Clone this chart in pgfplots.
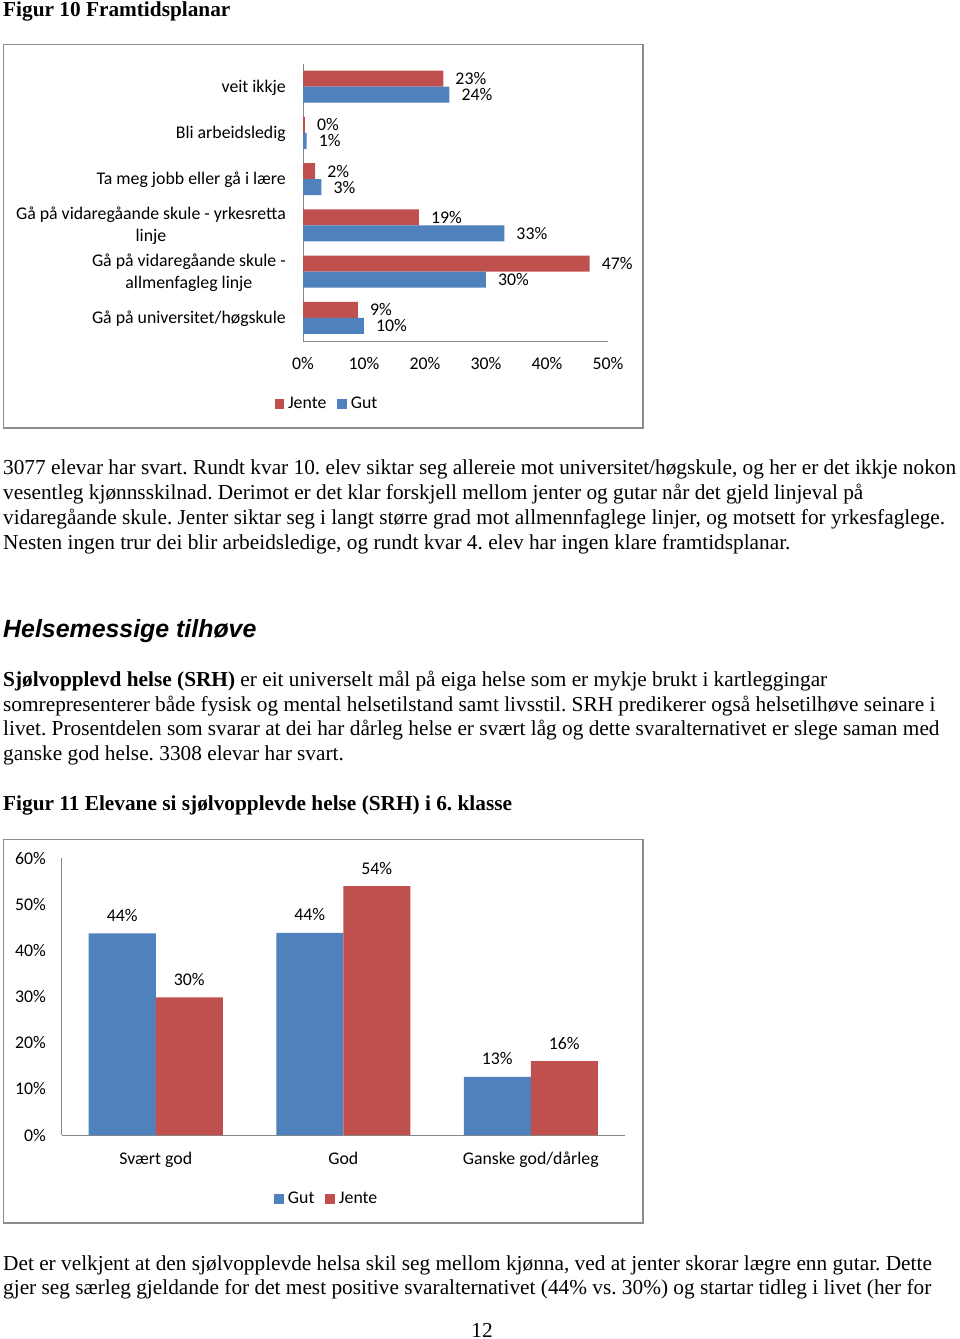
\documentclass[border=0pt]{standalone}
\usepackage{pgfplots}
\pgfplotsset{compat=1.18}
\usepackage{fontspec}
\setmainfont{Liberation Serif}
\newfontfamily\calibri{Carlito}
\newfontfamily\arial{Liberation Sans}
\definecolor{xblue}{HTML}{4F81BD}
\definecolor{xred}{HTML}{C0504D}
\definecolor{xgray}{HTML}{868686}
\definecolor{fgray}{HTML}{8C8C8C}
\newcommand\cf{\calibri\fontsize{17.8}{22}\selectfont}
\newcommand\tf{\fontsize{21.3}{24.7}\selectfont\frenchspacing}

\pgfplotsset{
  excel/.style={
    scale only axis, clip=false,
    axis lines=left, axis line style={xgray, line width=1pt, -},
    major tick length=0pt,
    tick label style={font=\cf, inner sep=0pt},
    /pgf/number format/assume math mode=true,
    nodes near coords={\pgfmathprintnumber[fixed,precision=0]{\pgfplotspointmeta}\%},
    every node near coord/.append style={font=\cf, inner sep=0pt, text=black},
    legend style={draw=none, fill=none, font=\cf, legend columns=-1, inner sep=0pt,
      nodes={inner sep=0pt, inner xsep=1pt},
      /tikz/every even column/.append style={column sep=10pt}},
  },
  sqlegend/.style={
    legend image code/.code={\fill[##1,draw=none] (0pt,-5.7pt) rectangle (9.5pt,4pt);
      \path (12.5pt,0pt);},
  },
}

\begin{document}
\begin{tikzpicture}[x=1pt,y=1pt]
\fill[white] (0,0) rectangle (960,-1339);
\tikzset{tl/.style={anchor=base west, inner sep=0pt, font=\tf}}

% Figur 10
\node[tl] at (3,-16) {\textbf{Figur 10 Framtidsplanar}};
\draw[fgray, line width=1.2pt] (3.5,-44.5) rectangle (643,-428);

\begin{axis}[excel,
  at={(303pt,-341pt)}, anchor=south west,
  width=305pt, height=277.5pt,
  xbar, bar width=16pt, sqlegend,
  xmin=0, xmax=50, ymin=-0.5, ymax=5.5,
  xtick={0,10,...,50}, ytick={0,...,5},
  xticklabel={\pgfmathprintnumber{\tick}\%},
  yticklabels={Gå på universitet/høgskule, {Gå på vidaregåande skule -\\allmenfagleg linje}, {Gå på vidaregåande skule - yrkesretta\\linje}, Ta meg jobb eller gå i lære, Bli arbeidsledig, veit ikkje},
  yticklabel style={align=center, xshift=-17pt, yshift=-0.8pt},
  xticklabel style={yshift=-16pt},
  point meta=x,
  every node near coord/.append style={anchor=west, xshift=12pt},
  legend style={at={(0.077,-0.224)}, anchor=center},
]
\addplot[fill=xred, draw=none, bar shift=8pt] coordinates {(9,0) (47,1) (19,2) (2,3) (0.3,4) (23,5)};
\addlegendentry{Jente}
\addplot[fill=xblue, draw=none, bar shift=-8pt] coordinates {(10,0) (30,1) (33,2) (3,3) (0.6,4) (24,5)};
\addlegendentry{Gut}
\end{axis}

% Paragraph 1
\node[tl] at (3,-474) {3077 elevar har svart. Rundt kvar 10. elev siktar seg allereie mot universitet/høgskule, og her er det ikkje nokon};
\node[tl] at (3,-499) {vesentleg kjønnsskilnad. Derimot er det klar forskjell mellom jenter og gutar når det gjeld linjeval på};
\node[tl] at (3,-524) {vidaregåande skule. Jenter siktar seg i langt større grad mot allmennfaglege linjer, og motsett for yrkesfaglege.};
\node[tl] at (3,-549) {Nesten ingen trur dei blir arbeidsledige, og rundt kvar 4. elev har ingen klare framtidsplanar.};

% Heading
\node[anchor=base west, inner sep=0pt, font=\arial\fontsize{24.9}{28}\selectfont\bfseries\itshape] at (3,-637) {Helsemessige tilhøve};

% Paragraph 2
\node[tl] at (3,-686) {\textbf{Sjølvopplevd helse (SRH)} er eit universelt mål på eiga helse som er mykje brukt i kartleggingar};
\node[tl] at (3,-711) {somrepresenterer både fysisk og mental helsetilstand samt livsstil. SRH predikerer også helsetilhøve seinare i};
\node[tl] at (3,-735) {livet. Prosentdelen som svarar at dei har dårleg helse er svært låg og dette svaralternativet er slege saman med};
\node[tl] at (3,-760) {ganske god helse. 3308 elevar har svart.};

% Figur 11
\node[tl] at (3,-810) {\textbf{Figur 11 Elevane si sjølvopplevde helse (SRH) i 6. klasse}};
\draw[fgray, line width=1.2pt] (3.5,-839.5) rectangle (643,-1223);

\begin{axis}[excel,
  at={(62pt,-1135pt)}, anchor=south west,
  width=562.5pt, height=277pt,
  ybar, bar width=67pt, sqlegend,
  xmin=-0.5, xmax=2.5, ymin=0, ymax=60,
  xtick={0,1,2}, xticklabels={Svært god, God, Ganske god/dårleg},
  ytick={0,10,...,60}, yticklabel={\pgfmathprintnumber{\tick}\%},
  xticklabel style={yshift=-16.5pt},
  yticklabel style={xshift=-16pt},
  point meta=y,
  every node near coord/.append style={anchor=south, yshift=11.5pt},
  legend style={at={(0.47,-0.228)}, anchor=center},
]
\addplot[fill=xblue, draw=none, bar shift=-33.5pt] coordinates {(0,43.7) (1,43.8) (2,12.6)};
\addlegendentry{Gut}
\addplot[fill=xred, draw=none, bar shift=33.5pt] coordinates {(0,29.8) (1,53.9) (2,16)};
\addlegendentry{Jente}
\end{axis}

% Paragraph 3
\node[tl] at (3,-1270) {Det er velkjent at den sjølvopplevde helsa skil seg mellom kjønna, ved at jenter skorar lægre enn gutar. Dette};
\node[tl] at (3,-1294) {gjer seg særleg gjeldande for det mest positive svaralternativet (44\% vs. 30\%) og startar tidleg i livet (her for};
\node[anchor=base, inner sep=0pt, font=\tf] at (482,-1337) {12};

\pgfresetboundingbox
\path (0,0) rectangle (960,-1339);
\end{tikzpicture}
\end{document}
